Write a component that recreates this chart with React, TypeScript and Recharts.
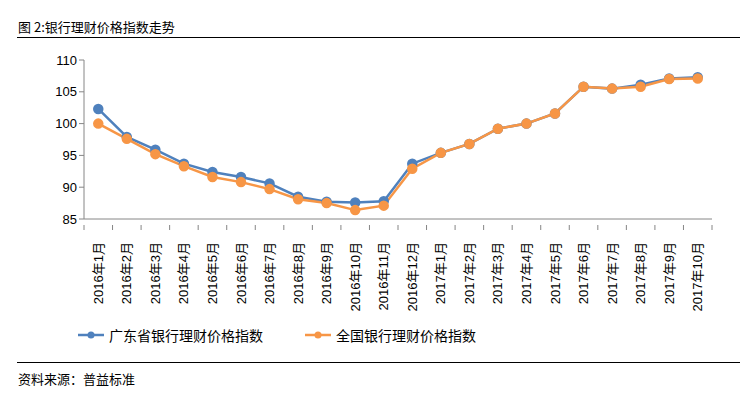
import { LineChart, Line, XAxis, YAxis, Legend } from "recharts";

const months = [
  "2016年1月", "2016年2月", "2016年3月", "2016年4月", "2016年5月", "2016年6月",
  "2016年7月", "2016年8月", "2016年9月", "2016年10月", "2016年11月", "2016年12月",
  "2017年1月", "2017年2月", "2017年3月", "2017年4月", "2017年5月", "2017年6月",
  "2017年7月", "2017年8月", "2017年9月", "2017年10月",
];

const guangdong = [
  102.3, 97.9, 95.9, 93.7, 92.4, 91.6, 90.6, 88.5, 87.7, 87.6, 87.8,
  93.7, 95.4, 96.8, 99.2, 100.0, 101.6, 105.8, 105.5, 106.1, 107.1, 107.3,
];

const national = [
  100.0, 97.6, 95.2, 93.3, 91.6, 90.8, 89.7, 88.1, 87.5, 86.4, 87.1,
  92.9, 95.4, 96.8, 99.2, 100.0, 101.6, 105.8, 105.5, 105.8, 107.0, 107.1,
];

const yTicks = [85, 90, 95, 100, 105, 110];

const BLUE = "#4F81BD";
const ORANGE = "#F79646";
const AXIS = "#868686";
const FONT = "'Liberation Sans', 'Noto Sans CJK SC', sans-serif";

const CHART_W = 754;
const M_LEFT = 44;
const M_RIGHT = 42;
const Y_W = 40;
// half of one category slot, so points sit in the middle like Excel
const HALF = (CHART_W - M_LEFT - M_RIGHT - Y_W) / months.length / 2;

const data = months.map((m, i) => ({
  month: m,
  gd: guangdong[i],
  qg: national[i],
}));

function MonthTick(props: any) {
  const { x, y, payload, index } = props;
  const ty = y + 17;
  return (
    <g>
      <line x1={x - HALF} y1={y} x2={x - HALF} y2={y + 5} stroke={AXIS} />
      {index === months.length - 1 && (
        <line x1={x + HALF} y1={y} x2={x + HALF} y2={y + 5} stroke={AXIS} />
      )}
      <text
        x={x}
        y={ty}
        dy="0.35em"
        transform={`rotate(-90 ${x} ${ty})`}
        textAnchor="end"
        fontSize={13}
        fill="#000"
        fontFamily={FONT}
      >
        {payload.value}
      </text>
    </g>
  );
}

function LegendBox() {
  const items = [
    { name: "广东省银行理财价格指数", color: BLUE, left: 78 },
    { name: "全国银行理财价格指数", color: ORANGE, left: 305 },
  ];
  return (
    <div style={{ position: "relative", height: 20 }}>
      {items.map((it) => (
        <div
          key={it.name}
          style={{
            position: "absolute",
            left: it.left,
            top: 0,
            display: "flex",
            alignItems: "center",
            fontSize: 14,
            fontFamily: FONT,
            color: "#000",
          }}
        >
          <svg width={28} height={10} style={{ marginRight: 3 }}>
            <line x1={0} y1={5} x2={26} y2={5} stroke={it.color} strokeWidth={2.5} />
            <circle cx={13} cy={5} r={3.5} fill={it.color} />
          </svg>
          {it.name}
        </div>
      ))}
    </div>
  );
}

export default function App() {
  return (
    <div
      style={{
        position: "absolute",
        left: 0,
        top: 0,
        width: 754,
        height: 399,
        background: "#fff",
        fontFamily: FONT,
      }}
    >
      <div
        style={{
          position: "absolute",
          left: 18,
          top: 17,
          fontSize: 13,
          fontFamily: "'Noto Sans CJK SC', sans-serif",
          color: "#000",
        }}
      >
        图 2:银行理财价格指数走势
      </div>
      <div
        style={{
          position: "absolute",
          left: 17,
          top: 37,
          width: 723,
          height: 1,
          background: "#000",
        }}
      />

      <div style={{ position: "absolute", left: 0, top: 0 }}>
        <LineChart
          width={CHART_W}
          height={345}
          data={data}
          margin={{ top: 60, right: M_RIGHT, left: M_LEFT, bottom: 14 }}
        >
          <XAxis
            dataKey="month"
            interval={0}
            height={92}
            tickLine={false}
            stroke={AXIS}
            tick={<MonthTick />}
            tickMargin={0}
            padding={{ left: HALF, right: HALF }}
          />
          <YAxis
            domain={[85, 110]}
            ticks={yTicks}
            width={Y_W}
            stroke={AXIS}
            tickSize={5}
            tick={{ fill: "#000", fontSize: 13, fontFamily: FONT }}
          />
          <Legend
            verticalAlign="bottom"
            height={20}
            wrapperStyle={{ left: 0, width: 754, bottom: 0 }}
            content={() => <LegendBox />}
          />
          <Line
            dataKey="gd"
            name="广东省银行理财价格指数"
            stroke={BLUE}
            strokeWidth={2.5}
            dot={{ r: 4, fill: BLUE, stroke: BLUE }}
            isAnimationActive={false}
          />
          <Line
            dataKey="qg"
            name="全国银行理财价格指数"
            stroke={ORANGE}
            strokeWidth={2.5}
            dot={{ r: 4, fill: ORANGE, stroke: ORANGE }}
            isAnimationActive={false}
          />
        </LineChart>
      </div>

      <div
        style={{
          position: "absolute",
          left: 17,
          top: 362,
          width: 723,
          height: 1,
          background: "#000",
        }}
      />
      <div
        style={{
          position: "absolute",
          left: 18,
          top: 369,
          fontSize: 13,
          fontFamily: "'Noto Sans CJK SC', sans-serif",
          color: "#000",
        }}
      >
        资料来源：普益标准
      </div>
    </div>
  );
}
